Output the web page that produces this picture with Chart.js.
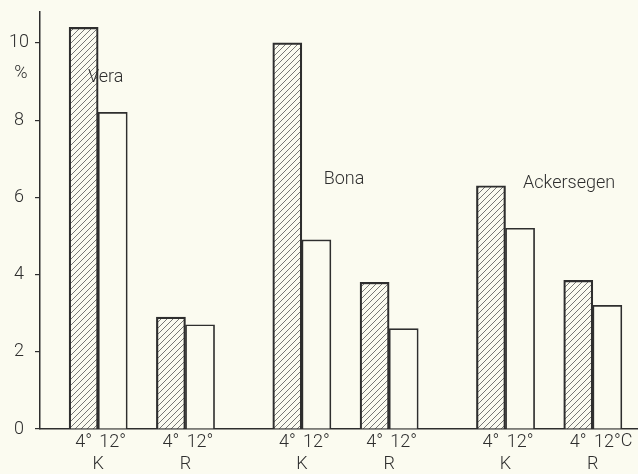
<!DOCTYPE html>
<html>
<head>
<meta charset="utf-8">
<script src="https://cdn.jsdelivr.net/npm/chart.js@4/dist/chart.umd.min.js"></script>
<style>
  html, body { margin: 0; padding: 0; background: #fbfbf0; overflow: hidden; }
  canvas { display: block; }
</style>
</head>
<body>
<canvas id="chart" width="651" height="474"></canvas>
<script>
// varieties, each measured for K and R at two temperatures
const varieties = ['Vera', 'Bona', 'Ackersegen'];
const parts = ['K', 'R'];
const temps = ['4°', '12°'];
const tempUnit = 'C';
const values4 = [10.4, 2.9, 10.0, 3.8, 6.3, 3.85];
const values12 = [8.2, 2.7, 4.9, 2.6, 5.2, 3.2];
const yTicks = [0, 2, 4, 6, 8, 10];
// where the variety names sit: [slot index, value]
const nameSpots = [[1.15, 9.1], [9.25, 6.45], [16.1, 6.37]];

const INK = '#2e2e2e';
const PAPER = '#fbfbf0';
const FONT = `Roboto, 'Liberation Sans', sans-serif`;

// slot layout: gap, then per variety K4 K12 gap R4 R12 gap gap
const labels = [''];
const data4 = [null];
const data12 = [null];
const groupSlots = [];
varieties.forEach((v, vi) => {
  parts.forEach((p, pi) => {
    const k = vi * 2 + pi;
    groupSlots.push([labels.length, labels.length + 1, p]);
    labels.push(temps[0], temps[1]);
    data4.push(values4[k], null);
    data12.push(null, values12[k]);
    labels.push('');
    data4.push(null);
    data12.push(null);
    if (pi === 1 && vi < varieties.length - 1) {
      labels.push('');
      data4.push(null);
      data12.push(null);
    }
  });
});
const lastTemp = labels.length - 2;

const makeHatch = () => {
  const n = 6;
  const c = document.createElement('canvas');
  c.width = n;
  c.height = n;
  const g = c.getContext('2d');
  g.fillStyle = PAPER;
  g.fillRect(0, 0, n, n);
  g.strokeStyle = '#555';
  g.lineWidth = 0.8;
  g.beginPath();
  g.moveTo(-1, n + 1); g.lineTo(n + 1, -1);
  g.moveTo(-1, 1); g.lineTo(1, -1);
  g.moveTo(n - 1, n + 1); g.lineTo(n + 1, n - 1);
  g.stroke();
  return g.createPattern(c, 'repeat');
};

const extras = {
  id: 'extras',
  afterDraw(chart) {
    const {ctx, scales: {x, y}} = chart;
    ctx.save();
    ctx.fillStyle = INK;
    ctx.font = `300 18px ${FONT}`;
    ctx.textBaseline = 'middle';
    ctx.textAlign = 'center';
    groupSlots.forEach(([a, b, p]) => {
      const cx = (x.getPixelForValue(a) + x.getPixelForValue(b)) / 2;
      ctx.fillText(p, cx, 464);
    });
    ctx.fillText('%', 21, y.getPixelForValue(9.2));
    ctx.textAlign = 'left';
    varieties.forEach((v, i) => {
      const [s, val] = nameSpots[i];
      ctx.fillText(v, x.getPixelForValue(s), y.getPixelForValue(val));
    });
    // unit right after the last temperature label
    const w = ctx.measureText(labels[lastTemp]).width;
    ctx.fillText(tempUnit, x.getPixelForValue(lastTemp) + w / 2, y.bottom + 12);
    ctx.restore();
  }
};

new Chart(document.getElementById('chart'), {
  type: 'bar',
  data: {
    labels: labels,
    datasets: [{
      data: data4,
      backgroundColor: makeHatch(),
      borderColor: INK,
      borderWidth: 2.2,
      borderSkipped: 'bottom'
    }, {
      data: data12,
      backgroundColor: PAPER,
      borderColor: INK,
      borderWidth: 1.7,
      borderSkipped: 'bottom'
    }]
  },
  options: {
    responsive: false,
    animation: false,
    devicePixelRatio: 1,
    layout: {padding: {top: 12, right: 0, left: 0, bottom: 0}},
    plugins: {legend: {display: false}, tooltip: {enabled: false}},
    datasets: {bar: {grouped: false, barPercentage: 1, categoryPercentage: 1}},
    scales: {
      x: {
        grid: {display: false},
        border: {display: true, color: INK, width: 1.5},
        ticks: {
          color: INK,
          font: {family: FONT, size: 18, weight: 300},
          maxRotation: 0,
          autoSkip: false,
          padding: -5
        },
        afterFit(s) { s.height = 45; }
      },
      y: {
        min: 0,
        max: 10.8,
        grid: {drawOnChartArea: false, drawTicks: true, tickLength: 5, color: INK, lineWidth: 1.2},
        border: {display: true, color: INK, width: 1.5},
        ticks: {
          stepSize: 2,
          includeBounds: false,
          color: INK,
          font: {family: FONT, size: 18, weight: 300},
          padding: 6,
          crossAlign: 'center',
          callback: (v) => yTicks.includes(v) ? v : ''
        },
        afterFit(s) {
          s.width = 40;
          s.paddingTop = 0;
          s.paddingBottom = 0;
        }
      }
    }
  },
  plugins: [extras]
});
</script>
</body>
</html>
